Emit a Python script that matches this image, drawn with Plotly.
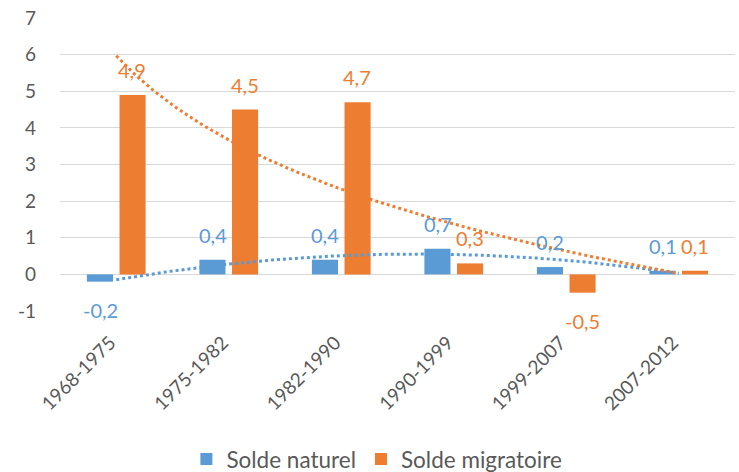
import numpy as np
import plotly.graph_objects as go

categories = ["1968-1975", "1975-1982", "1982-1990", "1990-1999", "1999-2007", "2007-2012"]
solde_naturel = [-0.2, 0.4, 0.4, 0.7, 0.2, 0.1]
solde_migratoire = [4.9, 4.5, 4.7, 0.3, -0.5, 0.1]
y_ticks = [-1, 0, 1, 2, 3, 4, 5, 6, 7]
y_ticktext = ["-1", "0", "1", "2", "3", "4", "5", "6", "7"]

BLUE = "#5B9BD5"
ORANGE = "#ED7D31"
FONT = "Lato, 'Open Sans', sans-serif"

x = np.arange(len(categories))
xn = x + 1  # Excel trendline x = 1..n

# Excel-style trendlines: polynomial (order 2) for naturel, logarithmic for migratoire
cb = np.polyfit(xn, solde_naturel, 2)
co = np.polyfit(np.log(xn), solde_migratoire, 1)
xf = np.linspace(1, len(categories), 200)
trend_b = np.polyval(cb, xf)
trend_o = np.polyval(co, np.log(xf))

fig = go.Figure()
fig.add_trace(go.Bar(x=x, y=solde_naturel, name="Solde naturel",
                     marker=dict(color=BLUE, line=dict(width=0))))
fig.add_trace(go.Bar(x=x, y=solde_migratoire, name="Solde migratoire",
                     marker=dict(color=ORANGE, line=dict(width=0))))
fig.add_trace(go.Scatter(x=xf - 1, y=trend_b, mode="lines", showlegend=False,
                         line=dict(color=BLUE, width=3, dash="dot"), hoverinfo="skip"))
fig.add_trace(go.Scatter(x=xf - 1, y=trend_o, mode="lines", showlegend=False,
                         line=dict(color=ORANGE, width=3, dash="dot"), hoverinfo="skip"))

def fmt(v):
    return str(v).replace(".", ",")

annotations = []
for series, color, xs in ((solde_naturel, BLUE, -16), (solde_migratoire, ORANGE, 16)):
    for i, v in enumerate(series):
        annotations.append(dict(
            x=i, y=v, xref="x", yref="y", text=fmt(v), showarrow=False,
            xshift=xs, yshift=25 if v >= 0 else -28, yanchor="middle",
            font=dict(family=FONT, size=20, color=color)))

fig.update_layout(
    width=739, height=472,
    margin=dict(l=60, r=4, t=18, b=161, autoexpand=False),
    paper_bgcolor="white", plot_bgcolor="white",
    barmode="group", bargap=0.42, bargroupgap=0.2,
    font=dict(family=FONT, color="#595959", size=19),
    showlegend=True,
    legend=dict(orientation="h", x=0.51, xanchor="center", xref="container",
                y=0.027, yanchor="middle", yref="container",
                font=dict(family=FONT, size=22.5, color="#595959"),
                itemwidth=30, tracegroupgap=0),
    annotations=annotations,
    xaxis=dict(range=[-0.5, len(categories) - 0.5], tickvals=list(x), ticktext=categories,
               tickangle=-45, showgrid=False, zeroline=False, showline=False, ticks="",
               automargin=False, ticklabelstandoff=16, ticklabelshift=-6,
               tickfont=dict(family=FONT, size=19, color="#595959")),
    yaxis=dict(range=[-1, 7], tickvals=y_ticks, ticktext=y_ticktext, showgrid=True,
               gridcolor="#D9D9D9", gridwidth=1, zeroline=True, zerolinecolor="#D9D9D9",
               zerolinewidth=1, showline=False, ticks="", ticklabelstandoff=23,
               automargin=False,
               tickfont=dict(family=FONT, size=19, color="#595959")),
)

fig.write_html("out.html", config={"displayModeBar": False},
               post_script="document.body.style.margin='0';document.body.style.overflow='hidden';")
